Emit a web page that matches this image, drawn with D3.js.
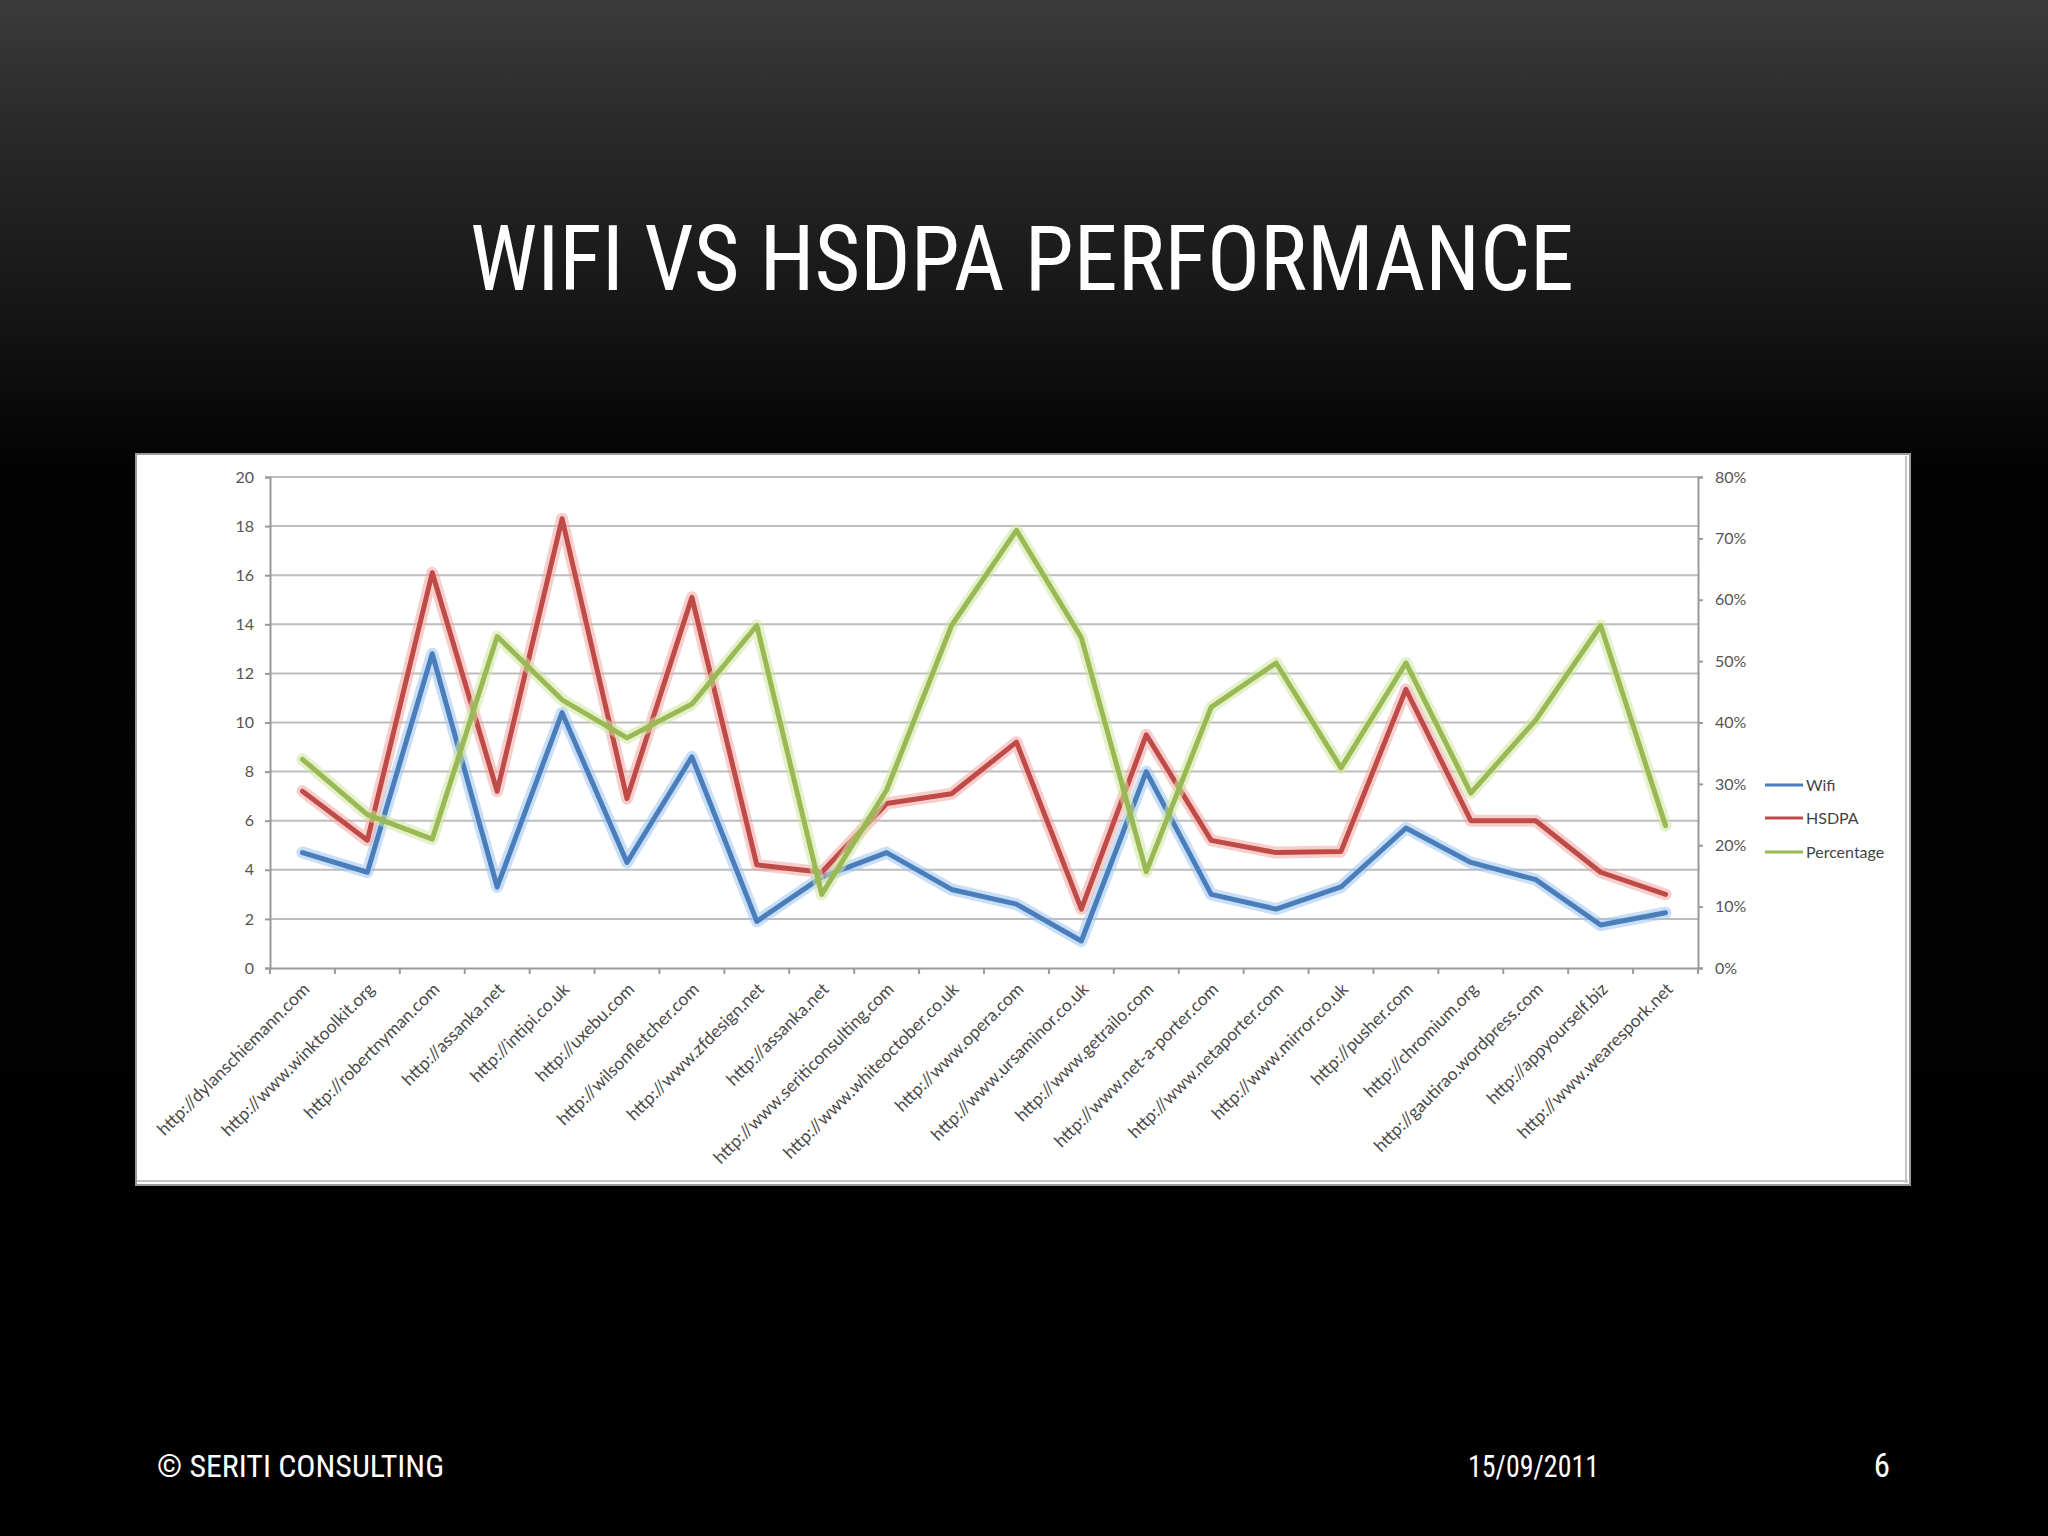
<!DOCTYPE html>
<html>
<head>
<meta charset="utf-8">
<script src="https://cdn.jsdelivr.net/npm/d3@7"></script>
<style>
  html, body { margin: 0; padding: 0; background: #000; }
  svg { display: block; }
</style>
</head>
<body>
<svg id="chart" width="2048" height="1536"></svg>
<script>
// ---------- data ----------
const categories = [
  "http://dylanschiemann.com",
  "http://www.winktoolkit.org",
  "http://robertnyman.com",
  "http://assanka.net",
  "http://intipi.co.uk",
  "http://uxebu.com",
  "http://wilsonfletcher.com",
  "http://www.zfdesign.net",
  "http://assanka.net",
  "http://www.seriticonsulting.com",
  "http://www.whiteoctober.co.uk",
  "http://www.opera.com",
  "http://www.ursaminor.co.uk",
  "http://www.getrailo.com",
  "http://www.net-a-porter.com",
  "http://www.netaporter.com",
  "http://www.mirror.co.uk",
  "http://pusher.com",
  "http://chromium.org",
  "http://gautirao.wordpress.com",
  "http://appyourself.biz",
  "http://www.wearespork.net"
];
const wifi  = [4.7, 3.9, 12.8, 3.3, 10.4, 4.3, 8.6, 1.9, 3.7, 4.7, 3.2, 2.6, 1.1, 8.0, 3.0, 2.4, 3.3, 5.7, 4.3, 3.6, 1.75, 2.25];
const hsdpa = [7.2, 5.2, 16.1, 7.2, 18.3, 6.9, 15.1, 4.2, 3.9, 6.7, 7.1, 9.2, 2.4, 9.5, 5.2, 4.7, 4.75, 11.35, 6.0, 6.0, 3.9, 3.0];
const percentage = [0.34, 0.25, 0.21, 0.54, 0.437, 0.375, 0.43, 0.558, 0.12, 0.29, 0.558, 0.713, 0.538, 0.157, 0.425, 0.497, 0.326, 0.497, 0.285, 0.404, 0.558, 0.232];
const leftTicks = [0, 2, 4, 6, 8, 10, 12, 14, 16, 18, 20];
const rightTicks = [0, 0.1, 0.2, 0.3, 0.4, 0.5, 0.6, 0.7, 0.8];
const seriesNames = ["Wifi", "HSDPA", "Percentage"];
const seriesColors = ["#4a7ebb", "#be4b48", "#98b954"];
const haloColors = ["#9cc3f0", "#f2a6a4", "#cfe6a0"];
const titleText = "WIFI VS HSDPA PERFORMANCE";
const footerLeft = "© SERITI CONSULTING";
const footerDate = "15/09/2011";
const footerPage = "6";

// ---------- layout ----------
const svg = d3.select("#chart");
const defs = svg.append("defs");
const grad = defs.append("linearGradient").attr("id", "bg").attr("x1", 0).attr("y1", 0).attr("x2", 0).attr("y2", 1);
grad.append("stop").attr("offset", "0").attr("stop-color", "#3b3b3b");
grad.append("stop").attr("offset", "0.08").attr("stop-color", "#2a2a2a");
grad.append("stop").attr("offset", "0.2").attr("stop-color", "#161616");
grad.append("stop").attr("offset", "0.3").attr("stop-color", "#030303");
grad.append("stop").attr("offset", "1").attr("stop-color", "#000000");
svg.append("rect").attr("width", 2048).attr("height", 1536).attr("fill", "url(#bg)");

const narrow = "'Liberation Sans Narrow', 'Arial Narrow', 'Roboto Condensed', 'Liberation Sans', sans-serif";
const small = "Lato, 'Open Sans', 'Liberation Sans', sans-serif";

// title
svg.append("text")
  .attr("x", 470).attr("y", 290)
  .attr("textLength", 1104).attr("lengthAdjust", "spacingAndGlyphs")
  .attr("font-family", narrow).attr("font-size", 90).attr("fill", "#ffffff")
  .text(titleText);

// footer
svg.append("text").attr("x", 157).attr("y", 1477)
  .attr("textLength", 287).attr("lengthAdjust", "spacingAndGlyphs")
  .attr("font-family", narrow).attr("font-size", 31).attr("fill", "#ffffff").text(footerLeft);
svg.append("text").attr("x", 1468).attr("y", 1477)
  .attr("textLength", 131).attr("lengthAdjust", "spacingAndGlyphs")
  .attr("font-family", narrow).attr("font-size", 31).attr("fill", "#ffffff").text(footerDate);
svg.append("text").attr("x", 1890).attr("y", 1477).attr("text-anchor", "end")
  .attr("font-family", narrow).attr("font-size", 33).attr("fill", "#ffffff").text(footerPage);

// white chart box
svg.append("rect").attr("x", 136).attr("y", 454).attr("width", 1774).attr("height", 731)
  .attr("fill", "#ffffff").attr("stroke", "#9a9a9a").attr("stroke-width", 2);
svg.append("line").attr("x1", 137).attr("x2", 1908).attr("y1", 1181).attr("y2", 1181)
  .attr("stroke", "#c4c4c4").attr("stroke-width", 2);
svg.append("line").attr("x1", 1906).attr("x2", 1906).attr("y1", 456).attr("y2", 1183)
  .attr("stroke", "#c4c4c4").attr("stroke-width", 2);

const plotLeft = 270, plotRight = 1698, plotTop = 477, plotBottom = 968;

const x = d3.scaleBand().domain(d3.range(categories.length)).range([plotLeft, plotRight]).padding(0);
const yL = d3.scaleLinear().domain([0, 20]).range([plotBottom, plotTop]);
const yR = d3.scaleLinear().domain([0, 0.8]).range([plotBottom, plotTop]);

// gridlines
svg.append("g").selectAll("line").data(leftTicks.filter(d => d > 0)).join("line")
  .attr("x1", plotLeft).attr("x2", plotRight)
  .attr("y1", d => yL(d)).attr("y2", d => yL(d))
  .attr("stroke", "#bdbdbd").attr("stroke-width", 2);

// left axis
const leftAxis = svg.append("g").attr("transform", `translate(${plotLeft},0)`)
  .call(d3.axisLeft(yL).tickValues(leftTicks).tickSize(5).tickPadding(11));
leftAxis.select(".domain").attr("stroke", "#9a9a9a").attr("stroke-width", 2);
leftAxis.selectAll(".tick line").attr("stroke", "#9a9a9a").attr("stroke-width", 2);
leftAxis.selectAll("text").attr("font-family", small).attr("font-size", 16).attr("fill", "#555");

// right axis
const rightAxis = svg.append("g").attr("transform", `translate(${plotRight},0)`)
  .call(d3.axisRight(yR).tickValues(rightTicks).tickFormat(d3.format(".0%")).tickSize(5).tickPadding(12));
rightAxis.select(".domain").attr("stroke", "#9a9a9a").attr("stroke-width", 2);
rightAxis.selectAll(".tick line").attr("stroke", "#9a9a9a").attr("stroke-width", 2);
rightAxis.selectAll("text").attr("font-family", small).attr("font-size", 16).attr("fill", "#555");

// bottom axis
const bottomAxis = svg.append("g").attr("transform", `translate(0,${plotBottom})`)
  .call(d3.axisBottom(x).tickSize(0).tickFormat(i => categories[i]));
bottomAxis.select(".domain").attr("stroke", "#9a9a9a").attr("stroke-width", 2);
bottomAxis.selectAll(".tick text")
  .attr("font-family", small).attr("font-size", 17.5).attr("fill", "#4a4a4a")
  .attr("text-anchor", "end")
  .attr("transform", "translate(4,18) rotate(-45)")
  .attr("dy", "0.35em").attr("y", 0).attr("x", 0);
// small ticks at band boundaries
svg.append("g").selectAll("line").data(d3.range(categories.length + 1)).join("line")
  .attr("x1", i => plotLeft + i * x.bandwidth()).attr("x2", i => plotLeft + i * x.bandwidth())
  .attr("y1", plotBottom).attr("y2", plotBottom + 6)
  .attr("stroke", "#9a9a9a").attr("stroke-width", 2);

// lines
const cx = i => x(i) + x.bandwidth() / 2;
const series = [
  { values: wifi, y: yL },
  { values: hsdpa, y: yL },
  { values: percentage, y: yR }
];
[0, 1, 2].forEach(k => {
  const s = series[k];
  const line = d3.line().x((d, i) => cx(i)).y(d => s.y(d));
  svg.append("path").datum(s.values).attr("d", line)
    .attr("fill", "none").attr("stroke", haloColors[k]).attr("stroke-width", 12)
    .attr("stroke-opacity", 0.55).attr("stroke-linejoin", "round").attr("stroke-linecap", "round");
  svg.append("path").datum(s.values).attr("d", line)
    .attr("fill", "none").attr("stroke", seriesColors[k]).attr("stroke-width", 5)
    .attr("stroke-linejoin", "round").attr("stroke-linecap", "round");
});

// legend
const legend = svg.append("g");
const legendY = [785, 818, 852];
seriesNames.forEach((name, k) => {
  legend.append("line").attr("x1", 1765).attr("x2", 1803)
    .attr("y1", legendY[k]).attr("y2", legendY[k])
    .attr("stroke", seriesColors[k]).attr("stroke-width", 3);
  legend.append("text").attr("x", 1806).attr("y", legendY[k]).attr("dy", "0.35em")
    .attr("font-family", small).attr("font-size", 16).attr("fill", "#444").text(name);
});
</script>
</body>
</html>
